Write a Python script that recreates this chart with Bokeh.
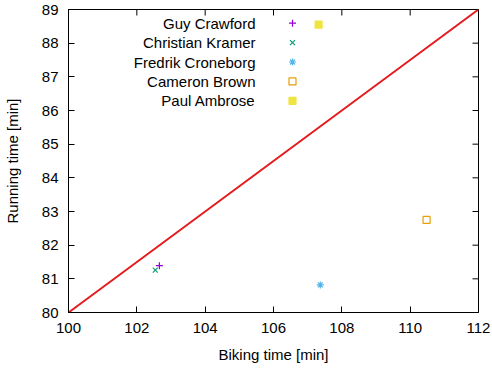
import math
from bokeh.plotting import figure
from bokeh.models import Range1d, FixedTicker, ColumnDataSource
from bokeh.core.properties import value
from bokeh.embed import file_html
from bokeh.resources import INLINE

# ---- data ----
names = ["Guy Crawford", "Christian Kramer", "Fredrik Croneborg", "Cameron Brown", "Paul Ambrose"]
biking = [102.66, 102.54, 107.37, 110.48, 107.32]
running = [81.39, 81.26, 80.82, 82.75, 88.55]
diag_x = [100, 112]
diag_y = [80, 89]
x_ticks = [100, 102, 104, 106, 108, 110, 112]
y_ticks = [80, 81, 82, 83, 84, 85, 86, 87, 88, 89]

# ---- styles ----
colors = ["#9400d3", "#009e73", "#56b4e9", "#e69f00", "#f0e442"]
markers = ["cross", "x", "asterisk", "square", "square"]
fills = [False, False, False, False, True]
FONT = "Liberation Sans"
FS = "15px"

FW, FH = 410, 303
BL, BR, BT, BB = 61, 12, 9, 56

p = figure(frame_width=FW, frame_height=FH, output_backend="svg", toolbar_location=None,
           x_range=Range1d(100, 112), y_range=Range1d(80, 89),
           min_border_left=BL, min_border_right=BR, min_border_top=BT, min_border_bottom=BB,
           x_axis_label="Biking time [min]", y_axis_label="Running time [min]")
p.xgrid.visible = False
p.ygrid.visible = False
p.outline_line_color = "black"
p.outline_line_width = 1
p.background_fill_color = "white"
p.border_fill_color = "white"

p.extra_x_ranges = {"px": Range1d(0, FW)}
p.extra_y_ranges = {"px": Range1d(FH, 0)}

for ax, ticks in ((p.xaxis[0], x_ticks), (p.yaxis[0], y_ticks)):
    ax.ticker = FixedTicker(ticks=ticks)
    ax.major_tick_in = 6
    ax.major_tick_out = 0
    ax.minor_tick_line_color = None
    ax.axis_line_color = "black"
    ax.major_tick_line_color = "black"
    ax.major_label_text_font = FONT
    ax.major_label_text_font_size = FS
    ax.major_label_text_color = "black"
    ax.axis_label_text_font = FONT
    ax.axis_label_text_font_size = FS
    ax.axis_label_text_font_style = "normal"
    ax.axis_label_text_color = "black"
p.xaxis[0].major_label_standoff = 10
p.xaxis[0].axis_label_standoff = 10
p.yaxis[0].major_label_standoff = 10
p.yaxis[0].axis_label_standoff = 18

# mirrored inward ticks on top and right edges (half of each dash is clipped by the frame)
p.scatter(x_ticks, [y_ticks[-1]] * len(x_ticks), marker="dash", angle=math.pi / 2,
          size=12, line_color="black", line_width=1)
p.scatter([x_ticks[-1]] * len(y_ticks), y_ticks, marker="dash",
          size=12, line_color="black", line_width=1)

# diagonal
p.line(diag_x, diag_y, line_color="#e41a1c", line_width=2)

# points
def mk(i):
    kw = dict(marker=markers[i], size=7, line_color=colors[i], line_width=1.2)
    kw["fill_color"] = colors[i] if fills[i] else None
    return kw

for i, n in enumerate(names):
    p.scatter([biking[i]], [running[i]], **mk(i))

# gnuplot-style key (text right-aligned, sample on the right), placed in frame pixels
key_text_x = 187
key_mark_x = 224
key_y0 = 13.7
key_dy = 19.4
key_ys = [key_y0 + i * key_dy for i in range(len(names))]
key_src = ColumnDataSource(dict(x=[key_text_x] * len(names), y=key_ys, t=names))
p.text(x="x", y="y", text="t", source=key_src, x_range_name="px", y_range_name="px",
       text_align="right", text_baseline="middle", text_font=value(FONT),
       text_font_size=FS, text_color="black")
for i in range(len(names)):
    p.scatter([key_mark_x], [key_ys[i]], x_range_name="px", y_range_name="px", **mk(i))

open("out.html", "w").write(file_html(p, INLINE))
